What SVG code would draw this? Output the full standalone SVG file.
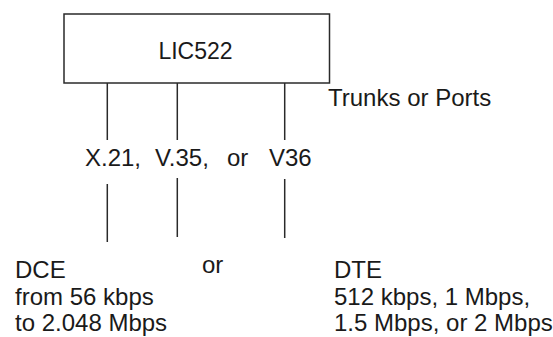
<svg xmlns="http://www.w3.org/2000/svg" width="553" height="337" viewBox="0 0 553 337">
<style>
text{font-family:"Liberation Sans",Arial,sans-serif;font-size:24px;fill:#1a1a1a}
.ln{stroke:#2a2a2a;stroke-width:1.5;fill:none}
</style>
<rect width="553" height="337" fill="#fff"/>
<g id="lic522">
<rect x="64" y="14" width="265.5" height="69" fill="#fff" stroke="#2a2a2a" stroke-width="1.5"/>
<text x="195.5" y="58.5" text-anchor="middle" style="font-size:23px">LIC522</text>
</g>
<g id="connectors">
<line class="ln" x1="107.3" y1="83" x2="107.3" y2="140"/>
<line class="ln" x1="177.3" y1="83" x2="177.3" y2="140"/>
<line class="ln" x1="284.7" y1="83" x2="284.7" y2="140"/>
<line class="ln" x1="107.3" y1="184" x2="107.3" y2="242"/>
<line class="ln" x1="177.3" y1="178" x2="177.3" y2="237"/>
<line class="ln" x1="284.7" y1="179" x2="284.7" y2="238"/>
</g>
<g id="trunks-label"><text x="328" y="106">Trunks or Ports</text></g>
<g id="interfaces">
<text x="85" y="166">X.21,</text>
<text x="155" y="166">V.35,</text>
<text x="227" y="166">or</text>
<text x="269" y="166">V36</text>
</g>
<g id="dce">
<text x="15" y="278">DCE</text>
<text x="15" y="305">from 56 kbps</text>
<text x="15" y="331">to 2.048 Mbps</text>
</g>
<g id="or-label"><text x="202" y="273">or</text></g>
<g id="dte">
<text x="334" y="278">DTE</text>
<text x="334" y="305">512 kbps, 1 Mbps,</text>
<text x="334" y="331">1.5 Mbps, or 2 Mbps</text>
</g>
</svg>
